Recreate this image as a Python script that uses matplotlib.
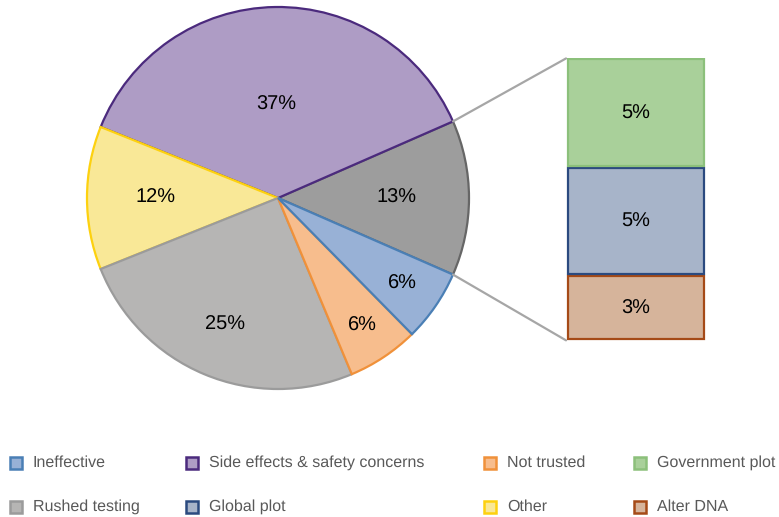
import matplotlib.pyplot as plt
from matplotlib.patches import ConnectionPatch, Rectangle
import numpy as np

plt.rcParams['font.family'] = ['Liberation Sans', 'DejaVu Sans']
plt.rcParams['text.hinting'] = 'no_hinting'
plt.rcParams['text.hinting_factor'] = 1

# main pie, counter-clockwise from the grouped slice
pie_labels = ['Grouped', 'Side effects & safety concerns', 'Other', 'Rushed testing', 'Not trusted', 'Ineffective']
pie_values = [13, 37, 12, 25, 6, 6]

# breakdown of the grouped slice, bottom to top
bar_labels = ['Alter DNA', 'Global plot', 'Government plot']
bar_values = [3, 5, 5]

pie_faces = ['#9d9d9d', '#ae9cc5', '#f9e897', '#b6b5b4', '#f7bd8d', '#98b1d6']
pie_edges = ['#666666', '#4b2a7d', '#fdd10f', '#9b9b9b', '#f0913a', '#4a7fb5']
bar_faces = ['#d6b49b', '#a7b4c9', '#a9d09a']
bar_edges = ['#a54a17', '#2b4a7f', '#8cc07b']
label_r = [0.62, 0.49, 0.64, 0.72, 0.8, 0.79]

W, H = 779, 517
fig = plt.figure(figsize=(W / 100, H / 100), dpi=100)

# pie axes
cx, cy, R = 278, 198, 191
ax1 = fig.add_axes([(cx - R) / W, (H - cy - R) / H, 2 * R / W, 2 * R / H])
total = sum(pie_values)
start = -pie_values[0] / total * 360 / 2
wedges, _ = ax1.pie(pie_values, startangle=start, counterclock=True,
                    colors=pie_faces, radius=1,
                    wedgeprops=dict(linewidth=1.6))
for w, ec, v, r in zip(wedges, pie_edges, pie_values, label_r):
    w.set_edgecolor(ec)
    mid = np.deg2rad((w.theta1 + w.theta2) / 2)
    ax1.text(r * np.cos(mid), r * np.sin(mid), f'{v}%', ha='center', va='center',
             fontsize=14.5, color='black')
ax1.set_xlim(-1, 1)
ax1.set_ylim(-1, 1)
ax1.axis('off')

# stacked bar axes, small gap between segments
bx0, bx1, by0, by1 = 566, 706, 58, 341
ax2 = fig.add_axes([bx0 / W, (H - by1) / H, (bx1 - bx0) / W, (by1 - by0) / H])
gap = 0.07
bottom = 0
for v, fc, ec in zip(bar_values, bar_faces, bar_edges):
    ax2.bar(0, v - gap, width=0.97, bottom=bottom + gap, color=fc, edgecolor=ec, linewidth=1.6)
    ax2.text(0, bottom + v / 2, f'{v}%', ha='center', va='center', fontsize=14.5)
    bottom += v
ax2.set_xlim(-0.5, 0.5)
ax2.set_ylim(0, sum(bar_values) + 0.05)
ax2.axis('off')

# connector lines
grp = wedges[0]
for ang, yb in [(grp.theta2, sum(bar_values) + 0.03), (grp.theta1, 0.03)]:
    a = np.deg2rad(ang)
    con = ConnectionPatch(xyA=(-0.5, yb), coordsA=ax2.transData,
                          xyB=(np.cos(a), np.sin(a)), coordsB=ax1.transData,
                          color='#a6a6a6', linewidth=1.6)
    fig.add_artist(con)

# legend
legend_items = [
    ('Ineffective', '#98b1d6', '#4a7fb5'),
    ('Side effects & safety concerns', '#ae9cc5', '#4b2a7d'),
    ('Not trusted', '#f7bd8d', '#f0913a'),
    ('Government plot', '#a9d09a', '#8cc07b'),
    ('Rushed testing', '#b6b5b4', '#9b9b9b'),
    ('Global plot', '#a7b4c9', '#2b4a7f'),
    ('Other', '#f9e897', '#fdd10f'),
    ('Alter DNA', '#d6b49b', '#a54a17'),
]
col_x = [10, 186, 484, 634]
row_y = [463, 507]
for i, (lab, fc, ec) in enumerate(legend_items):
    x = col_x[i % 4]
    y = row_y[i // 4]
    fig.add_artist(Rectangle((x / W, (H - y - 6) / H), 12 / W, 12 / H,
                             facecolor=fc, edgecolor=ec, linewidth=1.8,
                             transform=fig.transFigure))
    fig.text((x + 23) / W, (H - y) / H, lab, ha='left', va='center',
             fontsize=11.3, color='#595959')

fig.savefig('out.png', dpi=100)
